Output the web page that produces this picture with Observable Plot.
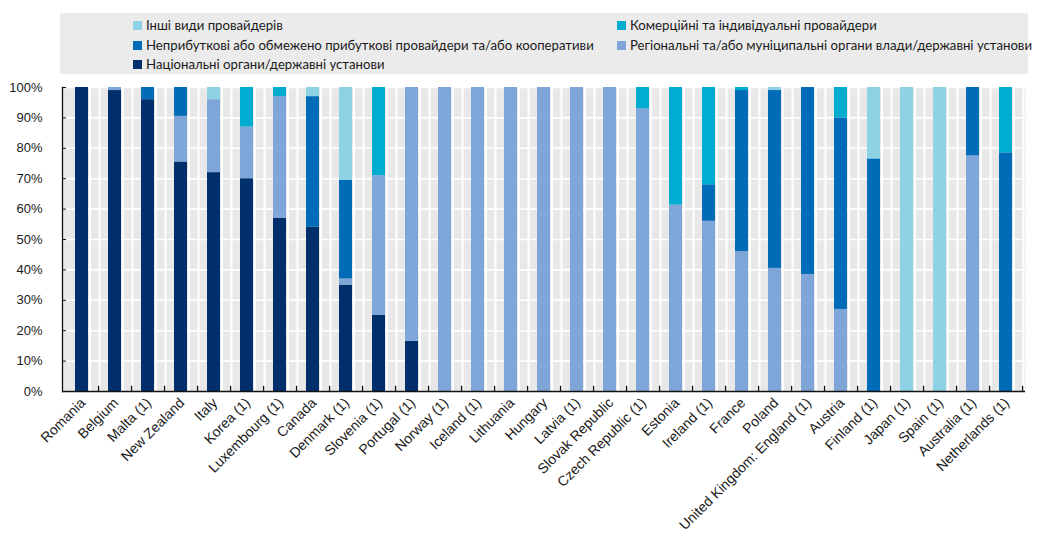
<!DOCTYPE html>
<html><head><meta charset="utf-8">
<script src="https://cdn.jsdelivr.net/npm/d3@7"></script>
<script src="https://cdn.jsdelivr.net/npm/@observablehq/plot@0.6"></script>
<style>
body{margin:0;background:#fff;}
#legend{position:relative;margin:13px 0 0 60px;width:968px;height:61px;background:#ebebeb;font-family:Lato,"Open Sans",sans-serif;font-size:13.2px;color:#1a1a1a;}
.item{position:absolute;display:flex;align-items:center;white-space:nowrap;height:16px;}
.sw{width:9px;height:9px;margin-right:4px;flex:none;}
#chart svg{display:block;}
</style></head><body>
<div id="legend"></div>
<div id="chart"></div>
<script>
const countries = ["Romania","Belgium","Malta (1)","New Zealand","Italy","Korea (1)","Luxembourg (1)","Canada","Denmark (1)","Slovenia (1)","Portugal (1)","Norway (1)","Iceland (1)","Lithuania","Hungary","Latvia (1)","Slovak Republic","Czech Republic (1)","Estonia","Ireland (1)","France","Poland","United Kingdom: England (1)","Austria","Finland (1)","Japan (1)","Spain (1)","Australia (1)","Netherlands (1)"];
const national   = [100,99,96,75.5,72,70,57,54,35,25,16.5,0,0,0,0,0,0,0,0,0,0,0,0,0,0,0,0,0,0];
const regional   = [0,1,0,15,24,17,40,0,2,46,83.5,100,100,100,100,100,100,93,61.3,56,46,40.5,38.5,27,0,0,0,77.5,0];
const nonprofit  = [0,0,4,9.5,0,0,0,43,32.5,0,0,0,0,0,0,0,0,0,0,12,53,58.5,61.5,63,76.5,0,0,22.5,78.5];
const commercial = [0,0,0,0,0,13,3,0,0,29,0,0,0,0,0,0,0,7,38.7,32,1,0,0,10,0,0,0,0,21.5];
const other      = [0,0,0,0,4,0,0,3,30.5,0,0,0,0,0,0,0,0,0,0,0,0,1,0,0,23.5,100,100,0,0];
const seriesNames = ["Національні органи/державні установи","Регіональні та/або муніципальні органи влади/державні установи","Неприбуткові або обмежено прибуткові провайдери та/або кооперативи","Комерційні та індивідуальні провайдери","Інші види провайдерів"];
const seriesValues = [national, regional, nonprofit, commercial, other];
const colors = ["#002f6c","#7ea6d9","#006cb7","#00acd0","#8dd3e5"];
const yTicks = d3.range(0, 101, 10);

// legend
const legendLayout = [[4,73,4],[2,73,24],[0,73,43],[3,557,4],[1,557,24]];
const legend = document.getElementById("legend");
for (const [i,l,t] of legendLayout) {
  const it = document.createElement("div");
  it.className = "item"; it.style.left = l+"px"; it.style.top = t+"px";
  const sw = document.createElement("span"); sw.className = "sw"; sw.style.background = colors[i];
  const tx = document.createElement("span"); tx.textContent = seriesNames[i];
  it.append(sw, tx); legend.append(it);
}

const data = [];
seriesNames.forEach((s,i) => countries.forEach((c,j) => data.push({country:c, series:s, value:seriesValues[i][j]})));

const chart = Plot.plot({
  width: 1038, height: 462,
  marginTop: 13, marginBottom: 145, marginLeft: 62, marginRight: 13,
  style: {fontFamily: "'Liberation Sans', Arial, sans-serif", fontSize: "13px", color: "#1a1a1a", background: "transparent"},
  x: {domain: countries, paddingInner: 0.62, paddingOuter: 0.31, label: null},
  y: {domain: [0, 100], label: null},
  color: {domain: seriesNames, range: colors},
  marks: [
    Plot.frame({fill: "#e8e8e8", stroke: null}),
    Plot.ruleY(yTicks, {y: d => d, stroke: "white", strokeWidth: 1.6}),
    Plot.ruleX(countries, {x: d => d, dx: 8, stroke: "#ffffff", strokeWidth: 2}),
    Plot.ruleX(countries, {x: d => d, dx: 17.5, stroke: "#ffffff", strokeWidth: 2}),
    Plot.barY(data, {x: "country", y: "value", fill: "series", order: seriesNames}),
    Plot.ruleY([0], {stroke: "#111", strokeWidth: 1.3}),
    Plot.frame({anchor: "left", stroke: "#111", strokeWidth: 1.3}),
    Plot.ruleX(countries, {x: d => d, dx: 16.6, y1: 0, y2: 1.7, stroke: "#111", strokeWidth: 1.3}),
    Plot.axisY(yTicks, {tickSize: -4, tickPadding: 24, tickFormat: d => d + "%", stroke: "#111", fontSize: 13}),
    Plot.axisX({tickSize: 0, tickPadding: 9, tickRotate: -45, dx: 1, fontSize: 14})
  ]
});
document.getElementById("chart").append(chart);
</script>
</body></html>
